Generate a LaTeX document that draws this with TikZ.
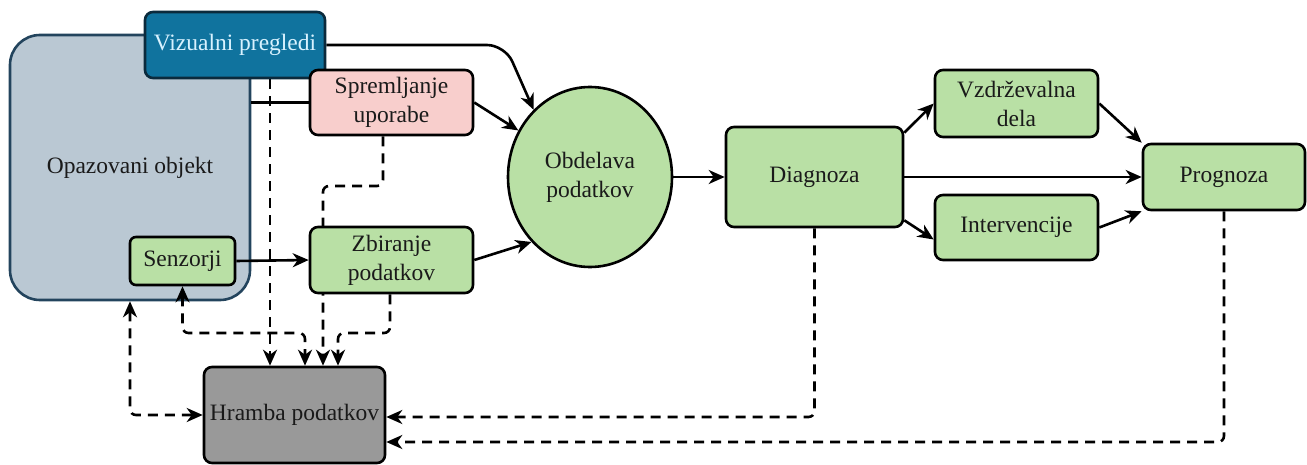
\documentclass[tikz,border=0pt]{standalone}
\usepackage{fontspec}
\setmainfont{Liberation Serif}
\usetikzlibrary{arrows.meta,shapes.geometric,calc}
\pgfdeclarelayer{bg}
\pgfdeclarelayer{edges}
\pgfsetlayers{bg,edges,main}
\definecolor{objfill}{HTML}{BAC8D3}
\definecolor{objdraw}{HTML}{23445D}
\definecolor{vizfill}{HTML}{10739E}
\definecolor{vizdraw}{HTML}{0B2A3C}
\definecolor{viztext}{HTML}{D8F2FF}
\definecolor{grn}{HTML}{B9E0A5}
\definecolor{pnk}{HTML}{F8CECC}
\definecolor{gry}{HTML}{999999}
\definecolor{txt}{HTML}{1A1A1A}
\begin{document}
\begin{tikzpicture}[x=1pt,y=-1pt,
  >={Stealth[length=16pt,width=14pt,inset=5pt]},
  box/.style={draw=black, line width=2.6pt, rounded corners=8pt, align=center,
    inner sep=2pt, font=\fontsize{23.5}{29}\selectfont, text=txt},
  greenbox/.style={box, fill=grn},
  ln/.style={line width=2.6pt, draw=black},
  arr/.style={ln, ->},
  dsh/.style={ln, dash pattern=on 10pt off 7pt, rounded corners=6pt}
]
\useasboundingbox (0,0) rectangle (1307,465);
\begin{pgfonlayer}{bg}
\node[box, draw=objdraw, fill=objfill, rounded corners=30pt,
  minimum width=240pt, minimum height=265pt] (obj) at (130,167.5) {Opazovani objekt};
\end{pgfonlayer}
\node[box, draw=vizdraw, fill=vizfill, text=viztext, minimum width=180pt, minimum height=66pt] (viz) at (235,45) {Vizualni pregledi};
\node[box, fill=pnk, minimum width=163pt, minimum height=65pt] (spr) at (391.5,102.5) {Spremljanje\\uporabe};
\node[greenbox, minimum width=105pt, minimum height=48pt, rounded corners=6pt] (sen) at (182.5,261) {Senzorji};
\node[greenbox, minimum width=163pt, minimum height=66pt] (zbi) at (391.5,260) {Zbiranje\\podatkov};
\node[greenbox, ellipse, rounded corners=0pt, inner sep=0pt, minimum width=164pt, minimum height=180pt] (obd) at (590,177) {Obdelava\\podatkov};
\node[greenbox, minimum width=177pt, minimum height=100pt] (dia) at (814.5,177) {Diagnoza};
\node[greenbox, minimum width=163pt, minimum height=67pt] (vzd) at (1016.5,103.5) {Vzdrževalna\\dela};
\node[greenbox, minimum width=163pt, minimum height=65pt] (int) at (1016.5,227.5) {Intervencije};
\node[greenbox, minimum width=162pt, minimum height=66pt] (pro) at (1224,177) {Prognoza};
\node[box, fill=gry, minimum width=181pt, minimum height=96pt] (hra) at (294.5,415) {Hramba podatkov};
\begin{pgfonlayer}{edges}
\draw[ln] (spr.west) -- (spr.west -| obj.east);
\draw[arr, rounded corners=18pt] (viz.east) -- (505,45) -- (obd.130);
\draw[arr] (spr.east) -- (obd.147);
\draw[arr] (zbi.east) -- (obd.228);
\draw[arr] (sen.east) -- (zbi.west);
\draw[arr] (obd.east) -- (dia.west);
\draw[arr] ([yshift=-7pt]dia.north east) -- (vzd.west);
\draw[arr] ([yshift=8pt]dia.south east) -- ([yshift=-12pt]int.west);
\draw[arr] (dia.east) -- (pro.west);
\draw[arr] (vzd.east) -- (pro.north west);
\draw[arr] (int.east) -- (pro.south west);
\draw[dsh, ->] ([xshift=35pt]viz.south) -- ([xshift=-24.5pt]hra.north);
\draw[dsh, ->] ([xshift=-8.5pt]spr.south) -- (383,186) -- (323,186) -- ([xshift=28.5pt]hra.north);
\draw[dsh, ->] ([xshift=-1.5pt]zbi.south) -- (390,333) -- (338,333) -- ([xshift=43.5pt]hra.north);
\draw[dsh, <->] (sen.south) -- (182.5,333) -- (305,333) -- ([xshift=10.5pt]hra.north);
\draw[dsh, <->] (obj.south) |- (hra.west);
\draw[dsh, ->] (dia.south) |- ([yshift=-2pt]hra.east);
\draw[dsh, ->] (pro.south) |- ([yshift=-27pt]hra.east);
\end{pgfonlayer}
\end{tikzpicture}
\end{document}
